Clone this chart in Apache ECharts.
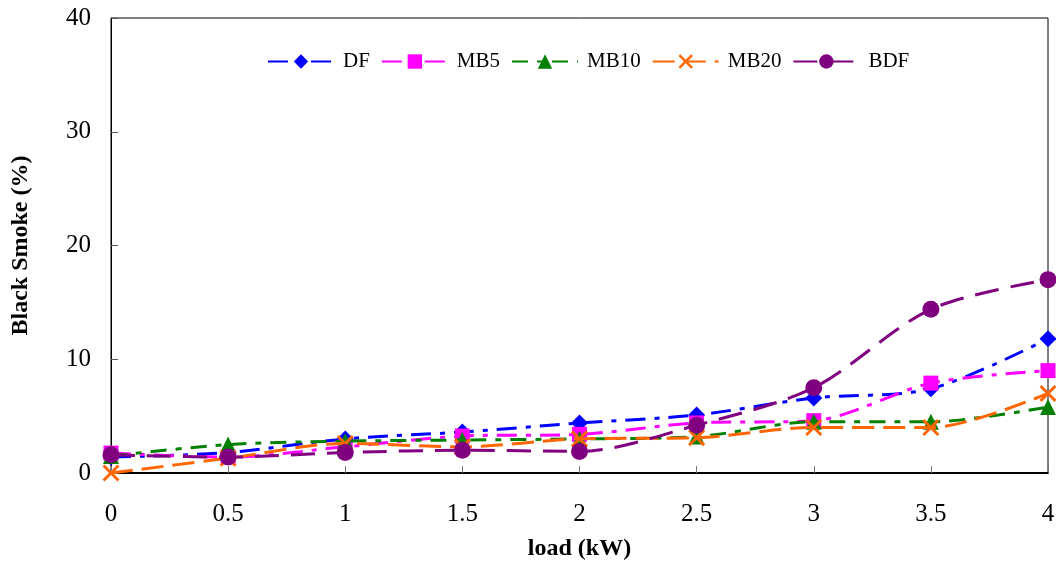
<!DOCTYPE html>
<html>
<head>
<meta charset="utf-8">
<script src="https://cdn.jsdelivr.net/npm/echarts@6/dist/echarts.min.js"></script>
<style>
  html, body { margin: 0; padding: 0; background: #fff; }
  #chart { width: 1056px; height: 565px; }
</style>
</head>
<body>
<div id="chart"></div>
<script>
// Engine load (kW) steps
const loads = [0, 0.5, 1, 1.5, 2, 2.5, 3, 3.5, 4];

// Black smoke opacity (%) per fuel
const DF   = [1.4, 1.8, 3.0, 3.6, 4.4, 5.1, 6.6, 7.4, 11.8];
const MB5  = [1.75, 1.4, 2.3, 3.25, 3.4, 4.4, 4.6, 7.9, 9.0];
const MB10 = [1.5, 2.5, 2.8, 2.9, 3.0, 3.2, 4.5, 4.5, 5.8];
const MB20 = [0.0, 1.3, 2.6, 2.3, 3.0, 3.1, 4.0, 4.0, 7.0];
const BDF  = [1.6, 1.4, 1.8, 2.0, 1.9, 4.2, 7.5, 14.4, 17.0];

const seriesNames = ['DF', 'MB5', 'MB10', 'MB20', 'BDF'];
const seriesValues = [DF, MB5, MB10, MB20, BDF];

const FONT = '"Liberation Serif", "Times New Roman", serif';

const styles = [
  { color: '#0000FF', symbol: 'diamond', size: 17, dash: [20, 9, 5, 9] },
  { color: '#FF00FF', symbol: 'rect', size: 15, dash: [20, 9, 5, 9] },
  { color: '#008000', symbol: 'triangle', size: 16, dash: [16, 9, 6, 9] },
  { color: '#FF6600', symbol: 'path://M0,1.2L1.2,0L5,3.8L8.8,0L10,1.2L6.2,5L10,8.8L8.8,10L5,6.2L1.2,10L0,8.8L3.8,5Z', size: 17, dash: [22, 9] },
  { color: '#800080', symbol: 'circle', size: 17, dash: [24, 12] }
];

const series = seriesNames.map((name, i) => ({
  name: name,
  type: 'line',
  smooth: 0.3,
  data: loads.map((x, j) => [x, seriesValues[i][j]]),
  symbol: styles[i].symbol,
  symbolSize: styles[i].size,
  showAllSymbol: true,
  itemStyle: { color: styles[i].color },
  lineStyle: { color: styles[i].color, width: 3, type: styles[i].dash },
  z: 2 + i
}));

const chart = echarts.init(document.getElementById('chart'), null, { renderer: 'canvas' });
chart.setOption({
  animation: false,
  backgroundColor: '#fff',
  grid: {
    left: 111, right: 8, top: 18, bottom: 92,
    containLabel: false,
    outerBoundsMode: 'none',
    show: true, borderColor: '#000', borderWidth: 1, backgroundColor: 'transparent'
  },
  legend: {
    top: 46,
    left: 262,
    itemWidth: 66,
    itemHeight: 18,
    itemGap: 11,
    textStyle: { fontFamily: FONT, fontSize: 21, color: '#000', padding: [0, 0, 0, 4] },
    data: seriesNames
  },
  xAxis: {
    type: 'value',
    min: 0, max: 4, interval: 0.5,
    name: 'load (kW)',
    nameLocation: 'middle',
    nameGap: 64,
    nameTextStyle: { fontFamily: FONT, fontSize: 24, fontWeight: 'bold', color: '#000' },
    axisLine: { show: true, onZero: false, lineStyle: { color: '#000', width: 2 } },
    axisTick: { show: true, inside: true, length: 7, lineStyle: { color: '#777' } },
    axisLabel: { fontFamily: FONT, fontSize: 25, color: '#000', margin: 29 },
    splitLine: { show: false }
  },
  yAxis: {
    type: 'value',
    min: 0, max: 40, interval: 10,
    name: 'Black Smoke (%)',
    nameLocation: 'middle',
    nameGap: 78,
    nameRotate: 90,
    nameTextStyle: { fontFamily: FONT, fontSize: 24, fontWeight: 'bold', color: '#000' },
    axisLine: { show: true, lineStyle: { color: '#000', width: 1 } },
    axisTick: { show: true, inside: true, length: 7, lineStyle: { color: '#555' } },
    axisLabel: { fontFamily: FONT, fontSize: 25, color: '#000', margin: 20 },
    splitLine: { show: false }
  },
  series: series
});
</script>
</body>
</html>
